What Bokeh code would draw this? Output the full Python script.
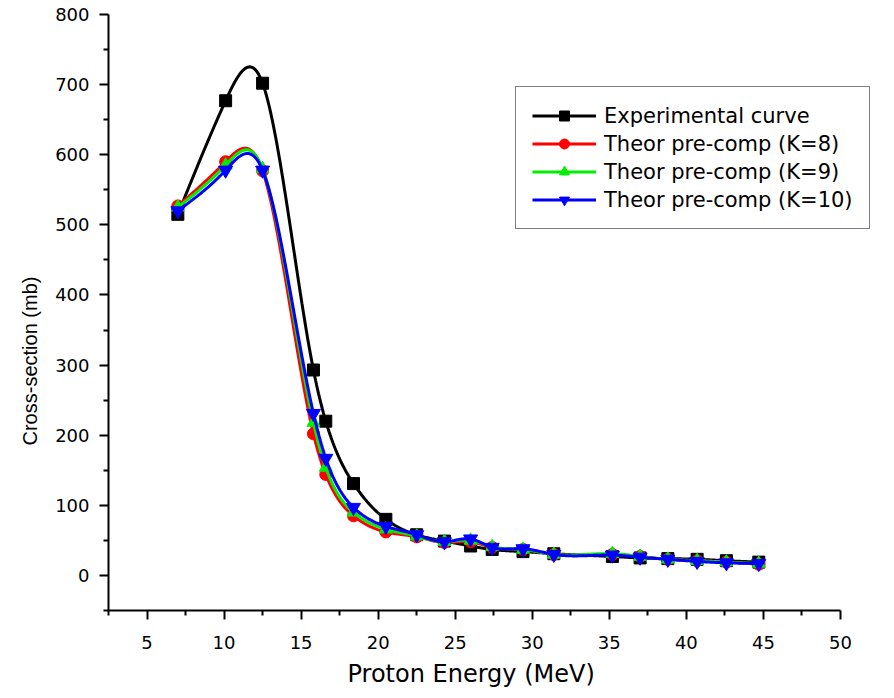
import numpy as np
from bokeh.plotting import figure
from bokeh.models import Range1d, Legend, LegendItem, FixedTicker, Title
from bokeh.embed import file_html
from bokeh.resources import INLINE

energy = [7.0, 10.1, 12.5, 15.8, 16.6, 18.4, 20.5, 22.5, 24.3, 26.0, 27.4,
          29.4, 31.4, 35.2, 37.0, 38.8, 40.7, 42.6, 44.7]
exp_curve = [515, 677, 702, 293, 220, 131, 80, 58, 49, 42, 37, 34, 31, 27, 25, 24, 23, 21, 19]
k8 = [527, 590, 577, 202, 144, 85, 62, 55, 47, 48, 40, 37, 30, 30, 27, 23, 21, 19, 16]
k9 = [525, 585, 580, 218, 154, 90, 66, 56, 48, 50, 41, 37, 30, 31, 27, 23, 21, 19, 17]
k10 = [520, 578, 578, 231, 167, 97, 70, 58, 48, 52, 40, 38, 30, 29, 26, 23, 20, 18, 17]

x_ticks = [5, 10, 15, 20, 25, 30, 35, 40, 45, 50]
y_ticks = [0, 100, 200, 300, 400, 500, 600, 700, 800]


def smooth(xs, ys, n=600):
    """Natural cubic spline through the points (for drawing the line only)."""
    x = np.asarray(xs, float)
    y = np.asarray(ys, float)
    m = len(x)
    h = np.diff(x)
    A = np.zeros((m, m))
    b = np.zeros(m)
    A[0, 0] = 1
    A[-1, -1] = 1
    for i in range(1, m - 1):
        A[i, i - 1] = h[i - 1]
        A[i, i] = 2 * (h[i - 1] + h[i])
        A[i, i + 1] = h[i]
        b[i] = 6 * ((y[i + 1] - y[i]) / h[i] - (y[i] - y[i - 1]) / h[i - 1])
    M = np.linalg.solve(A, b)
    xx = np.linspace(x[0], x[-1], n)
    idx = np.clip(np.searchsorted(x, xx) - 1, 0, m - 2)
    x0, x1 = x[idx], x[idx + 1]
    hh = x1 - x0
    t0 = x1 - xx
    t1 = xx - x0
    yy = (M[idx] * t0 ** 3 + M[idx + 1] * t1 ** 3) / (6 * hh) \
        + (y[idx] / hh - M[idx] * hh / 6) * t0 \
        + (y[idx + 1] / hh - M[idx + 1] * hh / 6) * t1
    return xx, yy


# frame runs past x = 50 so the legend can overhang the end of the axis
p = figure(width=894, height=698, output_backend="svg", toolbar_location=None,
           x_range=Range1d(2.5, 52.6), y_range=Range1d(-50, 800),
           min_border_left=108, min_border_right=14, min_border_top=14,
           min_border_bottom=88)
p.outline_line_color = None
p.grid.visible = False
p.background_fill_color = "white"

series = [
    ("Experimental curve", exp_curve, "black", "square", 12),
    ("Theor pre-comp (K=8)", k8, "#ff0000", "circle", 12),
    ("Theor pre-comp (K=9)", k9, "#00ee00", "triangle", 13),
    ("Theor pre-comp (K=10)", k10, "#0000ff", "inverted_triangle", 14),
]

items = []
for label, ys, color, marker, size in series:
    xx, yy = smooth(energy, ys)
    r1 = p.line(xx, yy, line_color=color, line_width=3)
    r2 = p.scatter(energy, ys, marker=marker, size=size, fill_color=color,
                   line_color=color)
    items.append(LegendItem(label=label, renderers=[r1, r2]))

legend = Legend(items=items, location=(407, 381))
legend.label_text_font = "DejaVu Sans"
legend.label_text_font_size = "21px"
legend.label_text_color = "black"
legend.glyph_width = 64
legend.glyph_height = 25
legend.label_height = 25
legend.label_standoff = 8
legend.spacing = 3
legend.padding = 16
legend.margin = 0
legend.border_line_color = "black"
legend.border_line_width = 1
legend.background_fill_alpha = 1
p.add_layout(legend, "center")

for ax in (p.xaxis[0], p.yaxis[0]):
    ax.axis_line_width = 2
    ax.major_tick_line_width = 2
    ax.minor_tick_line_width = 2
    ax.major_tick_out = 9
    ax.major_tick_in = 0
    ax.minor_tick_out = 5
    ax.minor_tick_in = 0
    ax.major_label_text_font = "DejaVu Sans"
    ax.major_label_text_font_size = "18px"
    ax.major_label_text_color = "black"

p.xaxis[0].bounds = (2.5, 50)
p.xaxis[0].ticker = FixedTicker(ticks=x_ticks, minor_ticks=[2.5 + 5 * i for i in range(10)])
p.yaxis[0].ticker = FixedTicker(ticks=y_ticks, minor_ticks=[-50 + 100 * i for i in range(9)])
p.xaxis[0].major_label_standoff = 16
p.yaxis[0].major_label_standoff = 10

xtitle = Title(text="Proton Energy (MeV)", align="left", offset=239,
               text_font="DejaVu Sans", text_font_size="24px",
               text_font_style="normal", text_color="black", standoff=12)
p.add_layout(xtitle, "below")

ytitle = Title(text="Cross-section (mb)", align="left", offset=165,
               text_font="Liberation Sans", text_font_size="20px",
               text_font_style="normal", text_color="black", standoff=24)
p.add_layout(ytitle, "left")

open("out.html", "w").write(file_html(p, INLINE))
